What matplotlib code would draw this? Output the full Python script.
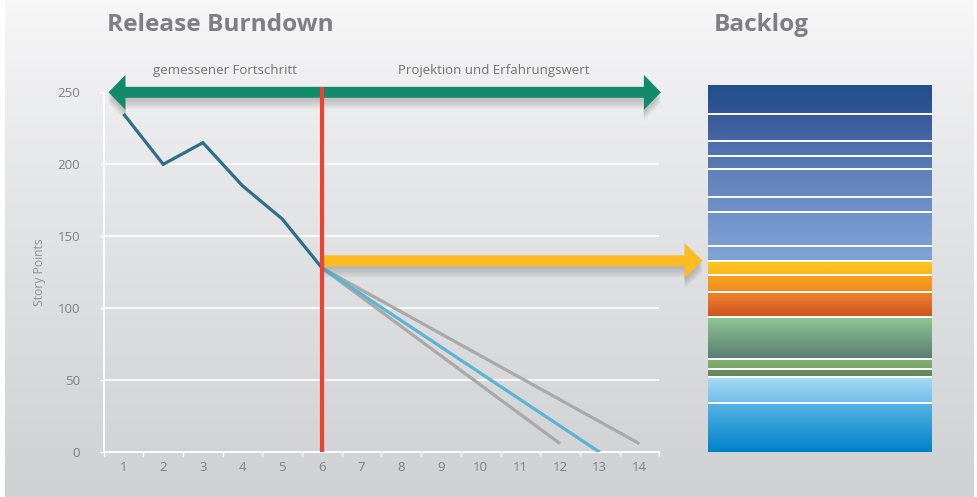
import numpy as np
import matplotlib
matplotlib.use("Agg")
import matplotlib.pyplot as plt
from matplotlib.patches import Polygon
from matplotlib.colors import to_rgb
from matplotlib.ticker import FixedLocator, NullFormatter, FixedFormatter

plt.rcParams["font.family"] = ["Open Sans", "DejaVu Sans"]

# ---- data -------------------------------------------------------------
sprints = [1, 2, 3, 4, 5, 6]
remaining = [235, 200, 215, 185, 162, 128]

proj_fast_x = [6, 12]
proj_fast_y = [128, 6]
proj_mid_x = [6, 13]
proj_mid_y = [128, 0]
proj_slow_x = [6, 14]
proj_slow_y = [128, 6]

x_ticks = list(range(1, 15))
y_ticks = [0, 50, 100, 150, 200, 250]
current_sprint = 6
backlog_marker = 133

# backlog items from bottom to top (story points)
backlog_sizes = [34, 18, 6, 7, 29, 17, 12, 10, 10, 24, 10, 20, 9, 10, 19, 20]

# ---- styles -----------------------------------------------------------
# (bottom, top) gradient colours per backlog item
backlog_colors = [
    ("#0082c8", "#56b3e5"),
    ("#6cbde8", "#a8dbf3"),
    ("#62865a", "#6a8e5e"),
    ("#76a566", "#80b16c"),
    ("#5a7c72", "#8dc793"),
    ("#cc5420", "#f0832a"),
    ("#f28a20", "#f8a41e"),
    ("#fbb51e", "#ffc81e"),
    ("#80a3d6", "#7c9fd3"),
    ("#7b9ed2", "#6f91c8"),
    ("#6e90c7", "#6a8bc3"),
    ("#6889c1", "#5f80ba"),
    ("#587ab4", "#5577b1"),
    ("#5274af", "#4d6eaa"),
    ("#4767a4", "#37599a"),
    ("#325595", "#224f8b"),
]

W, H = 978, 497
fig = plt.figure(figsize=(W / 100, H / 100), dpi=100)
fig.patch.set_facecolor("white")

# soft vertical background gradient
bg = fig.add_axes([5 / W, 0, 969 / W, 1], zorder=-10)
t = np.linspace(0, 1, 256)[:, None, None]
c_top = np.array(to_rgb("#f8f8f9"))
c_bot = np.array(to_rgb("#d0d1d3"))
bg.imshow(c_top + (c_bot - c_top) * t ** 0.8, aspect="auto",
          extent=[0, 1, 0, 1], origin="upper")
bg.axis("off")

# ---- burndown axes ----------------------------------------------------
L, R, B, T = 103.7, 659.3, 452.3, 92.3
ax = fig.add_axes([L / W, 1 - B / H, (R - L) / W, (B - T) / H])
ax.set_xlim(0.5, 14.5)
ax.set_ylim(0, 250)
ax.patch.set_alpha(0)
px_x = (R - L) / 14.0
px_y = (B - T) / 250.0

for s in ["top", "right"]:
    ax.spines[s].set_visible(False)
for s in ["left", "bottom"]:
    ax.spines[s].set_color("white")
    ax.spines[s].set_linewidth(1.3)

ax.set_yticks(y_ticks)
ax.set_yticklabels([str(v) for v in y_ticks])
ax.tick_params(axis="y", colors="white", labelcolor="#7f7f7f",
               length=3, width=1.0, pad=14, labelsize=9.5)
ax.xaxis.set_major_locator(FixedLocator([v + 0.5 for v in [0] + x_ticks]))
ax.xaxis.set_major_formatter(NullFormatter())
ax.xaxis.set_minor_locator(FixedLocator(x_ticks))
ax.xaxis.set_minor_formatter(FixedFormatter([str(v) for v in x_ticks]))
ax.tick_params(axis="x", which="major", colors="white", length=3, width=1.0)
ax.tick_params(axis="x", which="minor", length=0, pad=6,
               labelcolor="#7f7f7f", labelsize=9.5)

for v in y_ticks[1:-1]:
    ax.axhline(v, color="white", lw=1.2, zorder=1)

ax.set_ylabel("Story Points", color="#929292", fontsize=8.7)
ax.yaxis.set_label_coords(-0.104, 0.5)


def harrow(x0, x1, y, shaft_px, head_w_px, head_len_px, double=False):
    hs = shaft_px / 2 / px_y
    hw = head_w_px / 2 / px_y
    hl = head_len_px / px_x
    pts = [(x1, y), (x1 - hl, y + hw), (x1 - hl, y + hs)]
    if double:
        pts += [(x0 + hl, y + hs), (x0 + hl, y + hw), (x0, y),
                (x0 + hl, y - hw), (x0 + hl, y - hs)]
    else:
        pts += [(x0, y + hs), (x0, y - hs)]
    pts += [(x1 - hl, y - hs), (x1 - hl, y - hw)]
    return np.array(pts)


def draw_arrow(pts, color, z):
    for d in range(1, 11):
        sh = pts.copy()
        sh[:, 1] -= (d + 1) / px_y
        ax.add_patch(Polygon(sh, closed=True, facecolor="#6a6a6a",
                             edgecolor="none", alpha=0.04, zorder=z - 0.5,
                             clip_on=False))
    ax.add_patch(Polygon(pts, closed=True, facecolor=color, edgecolor="none",
                         zorder=z, clip_on=False))


# projections
ax.plot(proj_slow_x, proj_slow_y, color="#a9a9a9", lw=2.3,
        solid_capstyle="butt", zorder=3)
ax.plot(proj_fast_x, proj_fast_y, color="#a9a9a9", lw=2.3,
        solid_capstyle="butt", zorder=3)
ax.plot(proj_mid_x, proj_mid_y, color="#5bb4d4", lw=2.3,
        solid_capstyle="butt", zorder=4)
# measured burndown
ax.plot(sprints, remaining, color="#2d6e89", lw=2.3,
        solid_capstyle="butt", solid_joinstyle="miter", zorder=5)

# green double arrow at the top
green = harrow(0.62, 14.54, 250, 11, 35, 17, double=True)
draw_arrow(green, "#118b6b", 6)

# yellow arrow pointing to the backlog
yellow = harrow(current_sprint + 0.02, 15.59, backlog_marker, 11, 35, 18)
draw_arrow(yellow, "#fdbb24", 6)

# current sprint marker
ax.plot([current_sprint, current_sprint], [0, 250 + 5.5 / px_y],
        color="#ee4130", lw=3.0, solid_capstyle="butt", zorder=8,
        clip_on=False)

fig.text(225 / W, 1 - 71 / H, "gemessener Fortschritt", ha="center",
         va="center", fontsize=9.5, color="#737373")
fig.text(494 / W, 1 - 71 / H, "Projektion und Erfahrungswert", ha="center",
         va="center", fontsize=9.5, color="#737373")

# ---- titles -----------------------------------------------------------
fig.text(107 / W, 1 - 31 / H, "Release Burndown", fontsize=17.6,
         fontweight="bold", color="#7f7f81", va="baseline")
fig.text(714 / W, 1 - 31 / H, "Backlog", fontsize=17.6,
         fontweight="bold", color="#7f7f81", va="baseline")

# ---- backlog stack ----------------------------------------------------
total = sum(backlog_sizes)
bl_L, bl_R = 708, 932
bax = fig.add_axes([bl_L / W, 1 - B / H, (bl_R - bl_L) / W,
                    total * px_y / H])
bax.set_xlim(0, 1)
bax.set_ylim(0, total)
bax.axis("off")
bottoms = np.concatenate([[0], np.cumsum(backlog_sizes)[:-1]])
bars = bax.bar(0.5, backlog_sizes, bottom=bottoms, width=1.0,
               color="none", edgecolor="none")
for bar, b0, sz, (cb, ct) in zip(bars, bottoms, backlog_sizes,
                                 backlog_colors):
    tt = np.linspace(0, 1, 64)[:, None, None]
    cb_, ct_ = np.array(to_rgb(cb)), np.array(to_rgb(ct))
    im = bax.imshow(cb_ + (ct_ - cb_) * tt, aspect="auto", origin="lower",
                    extent=[0, 1, b0, b0 + sz], zorder=1)
    im.set_clip_path(bar)
for b in bottoms[1:]:
    bax.axhline(b, color="white", lw=1.4, zorder=2)

fig.savefig("out.png", dpi=100, facecolor=fig.get_facecolor())
